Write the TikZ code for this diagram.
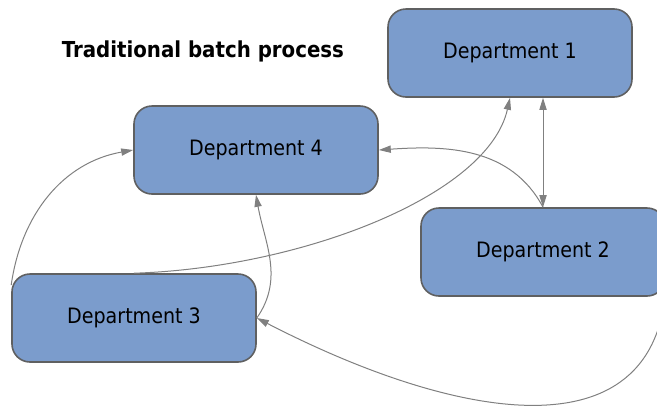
\documentclass[tikz,border=0pt]{standalone}
\usepackage{fontspec}
\setmainfont{DejaVu Sans Condensed}
\usetikzlibrary{arrows.meta}

\definecolor{deptfill}{HTML}{7B9CCC}
\definecolor{deptline}{HTML}{5F6061}
\definecolor{linkgray}{HTML}{808080}

\begin{document}
\begin{tikzpicture}[
    x=0.5pt, y=-0.5pt,
    dept/.style={rectangle, rounded corners=9pt, draw=deptline, line width=0.8pt,
        fill=deptfill, minimum width=122pt, minimum height=44pt,
        inner sep=0pt, font=\fontsize{10.6}{12}\selectfont},
    link/.style={draw=linkgray, line width=0.5pt,
        -{Triangle[length=6pt,width=3.6pt]}, fill=none}
]
    \useasboundingbox (0,0) rectangle (657,408);
    \node[font=\bfseries\fontsize{11}{13}\selectfont] (title) at (203,51) {Traditional batch process};
    \node[dept] (d1) at (510,53) {Department 1};
    \node[dept] (d4) at (256,150) {Department 4};
    \node[dept] (d2) at (543,252) {Department 2};
    \node[dept] (d3) at (134,318) {Department 3};
    \draw[link, {Triangle[length=6pt,width=3.6pt]}-{Triangle[length=6pt,width=3.6pt]}]
        (d2.north) -- (d2.north |- d1.south);
    \draw[link] (d2.north) to[out=118, in=4] (d4.east);
    \draw[link] (d3.north) .. controls (300,268) and (488,196) .. (d1.south);
    \draw[link] (d3.165) to[out=82, in=190] (d4.west);
    \draw[link] (d3.east) to[out=55, in=-80] (d4.south);
    \draw[link] (d2.east) .. controls (680,460) and (470,428) .. (d3.east);
\end{tikzpicture}
\end{document}
